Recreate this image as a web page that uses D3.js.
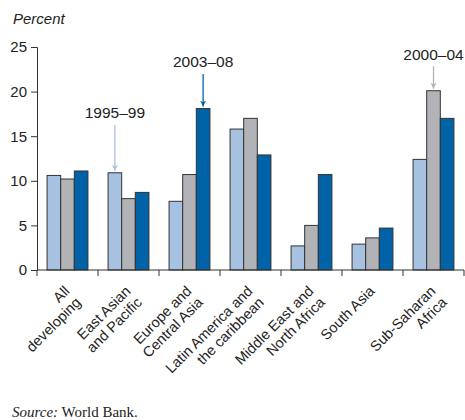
<!DOCTYPE html>
<html>
<head>
<meta charset="utf-8">
<script src="https://cdn.jsdelivr.net/npm/d3@7"></script>
<style>
  body { margin: 0; background: #fff; }
  text { font-family: "Liberation Sans", Arial, sans-serif; fill: #222; }
</style>
</head>
<body>
<svg width="465" height="420"></svg>
<script>
// regions, two-line labels
const regions = [
  ['All', 'developing'],
  ['East Asian', 'and Pacific'],
  ['Europe and', 'Central Asia'],
  ['Latin America and', 'the caribbean'],
  ['Middle East and', 'North Africa'],
  ['South Asia'],
  ['Sub-Saharan', 'Africa']
];
const periods = ['1995–99', '2000–04', '2003–08'];
const v1995 = [10.6, 10.9, 7.7, 15.8, 2.7, 2.9, 12.4];
const v2000 = [10.2, 8.0, 10.7, 17.0, 5.0, 3.6, 20.1];
const v2003 = [11.1, 8.7, 18.1, 12.9, 10.7, 4.7, 17.0];
const yTicks = [0, 5, 10, 15, 20, 25];

const colors = ['#a7c1e1', '#b1b3b7', '#0063a7'];

const margin = { top: 47, right: 1, bottom: 150, left: 37 };
const width = 465 - margin.left - margin.right;
const height = 420 - margin.top - margin.bottom;

const svg = d3.select('svg');
const chart = svg.append('g')
  .attr('transform', `translate(${margin.left}, ${margin.top})`);

const names = regions.map(d => d.join(' '));
const series = [v1995, v2000, v2003];

const x = d3.scaleBand()
  .domain(names)
  .range([0, width])
  .paddingInner(0.33)
  .paddingOuter(0.165);

const xOuter = d3.scaleBand()
  .domain(names)
  .range([0, width]);

const xInner = d3.scaleBand()
  .domain(periods)
  .range([0, x.bandwidth()]);

const y = d3.scaleLinear()
  .domain([0, 25])
  .range([height, 0]);

// bars
names.forEach((name, i) => {
  const g = chart.append('g')
    .attr('transform', `translate(${x(name)}, 0)`);
  g.selectAll('rect')
    .data(periods.map((p, j) => ({ p: p, v: series[j][i], c: colors[j] })))
    .enter()
    .append('rect')
    .attr('x', d => xInner(d.p))
    .attr('y', d => y(d.v))
    .attr('width', xInner.bandwidth())
    .attr('height', d => height - y(d.v))
    .attr('fill', d => d.c)
    .attr('stroke', '#333')
    .attr('stroke-width', 1);
});

// y axis
const yAxis = chart.append('g')
  .call(d3.axisLeft(y).tickValues(yTicks).tickSize(6).tickPadding(4).tickSizeOuter(6));
yAxis.selectAll('text').style('font-size', '15px').attr('fill', '#222');
yAxis.selectAll('line, path').attr('stroke', '#333');

// x axis with ticks at band boundaries
const xAxisG = chart.append('g')
  .attr('transform', `translate(0, ${height})`);
xAxisG.append('line')
  .attr('x1', 0).attr('x2', width)
  .attr('stroke', '#333');
xAxisG.selectAll('.tk')
  .data(names.concat(['end']))
  .enter()
  .append('line')
  .attr('x1', (d, i) => i < names.length ? xOuter(d) : width)
  .attr('x2', (d, i) => i < names.length ? xOuter(d) : width)
  .attr('y1', 0).attr('y2', 6)
  .attr('stroke', '#333');

// rotated category labels
const lab = xAxisG.selectAll('.lab')
  .data(regions)
  .enter()
  .append('text')
  .attr('transform', (d, i) => `translate(${xOuter(names[i]) + xOuter.bandwidth() / 2 + 3}, 22) rotate(-45)`)
  .attr('text-anchor', 'end')
  .style('font-size', '14.5px');
lab.each(function(d) {
  const t = d3.select(this);
  d.forEach((line, k) => {
    t.append('tspan')
      .attr('x', 0)
      .attr('dy', k === 0 ? 0 : '1.1em')
      .text(line);
  });
});

// y title
svg.append('text')
  .attr('x', 13)
  .attr('y', 24)
  .style('font-size', '15px')
  .style('font-style', 'italic')
  .text('Percent');

// period annotations with arrows
const notes = [
  { label: '1995–99', region: 1, j: 0, ty: 118, y1: 125 },
  { label: '2003–08', region: 2, j: 2, ty: 67, y1: 74 },
  { label: '2000–04', region: 6, j: 1, ty: 60, y1: 66 }
];
const defs = svg.append('defs');
colors.forEach((c, j) => {
  defs.append('marker')
    .attr('id', 'arr' + j)
    .attr('viewBox', '0 0 10 10')
    .attr('refX', 10).attr('refY', 5)
    .attr('markerWidth', 6).attr('markerHeight', 8)
    .attr('markerUnits', 'userSpaceOnUse')
    .attr('orient', 'auto')
    .append('path')
    .attr('d', 'M0,0 L10,5 L0,10 L3,5 Z')
    .attr('fill', c);
});
notes.forEach(n => {
  const cx = margin.left + x(names[n.region]) + xInner(periods[n.j]) + xInner.bandwidth() / 2;
  const top = margin.top + y(series[n.j][n.region]) - 2;
  svg.append('line')
    .attr('x1', cx).attr('x2', cx)
    .attr('y1', n.y1).attr('y2', top)
    .attr('stroke', colors[n.j])
    .attr('stroke-width', 1.3)
    .attr('marker-end', `url(#arr${n.j})`);
  svg.append('text')
    .attr('x', cx)
    .attr('y', n.ty)
    .attr('text-anchor', 'middle')
    .style('font-size', '15.5px')
    .text(n.label);
});

// source
const src = svg.append('text')
  .attr('x', 12)
  .attr('y', 417)
  .style('font-family', '"Liberation Serif", "DejaVu Serif", serif')
  .style('font-size', '15px');
src.append('tspan').style('font-style', 'italic').text('Source:');
src.append('tspan').text(' World Bank.');
</script>
</body>
</html>
